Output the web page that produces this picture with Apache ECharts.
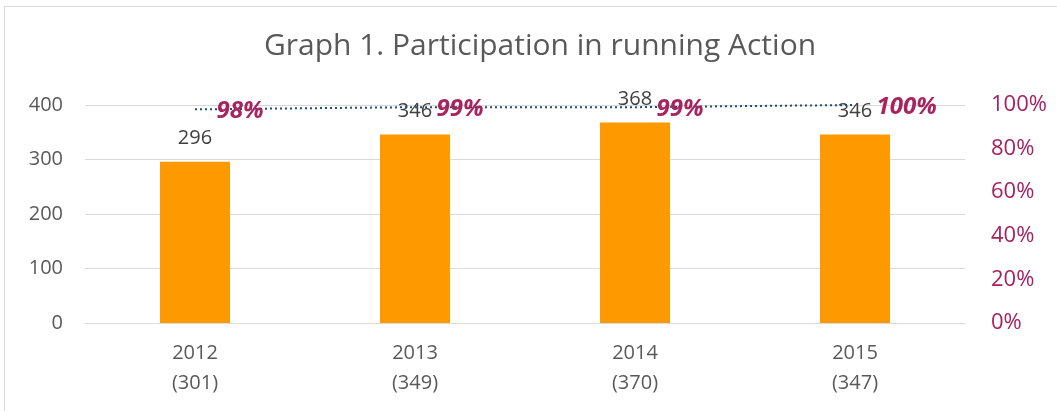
<!DOCTYPE html>
<html>
<head>
<meta charset="utf-8">
<script src="https://cdn.jsdelivr.net/npm/echarts@6/dist/echarts.min.js"></script>
<style>
  html, body { margin: 0; padding: 0; background: #fff; }
  #chart { width: 1057px; height: 411px; }
</style>
</head>
<body>
<div id="chart"></div>
<script>
// 数据
var years = ['2012', '2013', '2014', '2015'];
var totals = [301, 349, 370, 347];
var runners = [296, 346, 368, 346];
var shares = [0.98, 0.99, 0.99, 1.00];

var categories = years.map(function(y, i) {
  return y + '\n(' + totals[i] + ')';
});

var option = {
  backgroundColor: '#FFFFFF',
  animation: false,
  textStyle: { fontFamily: 'Open Sans' },
  title: {
    text: 'Graph 1. Participation in running Action',
    left: 535,
    top: 26,
    textAlign: 'center',
    textStyle: {
      color: '#595959',
      fontSize: 30,
      fontWeight: 'normal',
      fontFamily: 'Open Sans',
    },
  },
  // 外框
  graphic: [
    {
      type: 'rect',
      shape: { x: 4.5, y: 6.5, width: 1100, height: 500 },
      style: { fill: 'none', stroke: '#d9d9d9', lineWidth: 1 },
      silent: true,
    },
  ],
  grid: { left: 85, right: 92, top: 105, bottom: 88 },
  xAxis: {
    type: 'category',
    data: categories,
    axisLine: { lineStyle: { color: '#d9d9d9', width: 1 } },
    axisTick: { show: false },
    axisLabel: {
      color: '#595959',
      fontSize: 20,
      lineHeight: 30,
      margin: 15,
    },
  },
  yAxis: [
    {
      type: 'value',
      min: 0,
      max: 400,
      interval: 100,
      axisLine: { show: false },
      axisTick: { show: false },
      splitLine: { lineStyle: { color: '#d9d9d9', width: 1 } },
      axisLabel: { color: '#595959', fontSize: 20, margin: 22 },
    },
    {
      type: 'value',
      min: 0,
      max: 1,
      interval: 0.2,
      axisLine: { show: false },
      axisTick: { show: false },
      splitLine: { show: false },
      axisLabel: {
        color: '#a6225f',
        fontSize: 22,
        margin: 26,
        formatter: function(v) {
          return Math.round(v * 100) + '%';
        },
      },
    },
  ],
  series: [
    {
      name: 'Runners',
      type: 'bar',
      barWidth: 70,
      data: runners,
      itemStyle: { color: '#ff9900' },
      label: {
        show: true,
        position: 'top',
        distance: 13,
        color: '#404040',
        fontSize: 20,
      },
      z: 2,
    },
    {
      name: 'Share',
      type: 'line',
      yAxisIndex: 1,
      data: shares,
      symbol: 'circle',
      symbolSize: 1,
      showSymbol: true,
      itemStyle: { color: 'rgba(0,0,0,0)' },
      lineStyle: { color: '#1f4e79', width: 2, type: [2, 3] },
      label: {
        show: true,
        position: 'right',
        distance: 21,
        offset: [0, 2],
        color: '#a8245f',
        fontSize: 24,
        fontWeight: 'bold',
        fontStyle: 'italic',
        formatter: function(p) {
          return Math.round(p.value * 100) + '%';
        },
      },
      z: 3,
    },
  ],
};

var myChart = echarts.init(document.getElementById('chart'));
myChart.setOption(option);
</script>
</body>
</html>
